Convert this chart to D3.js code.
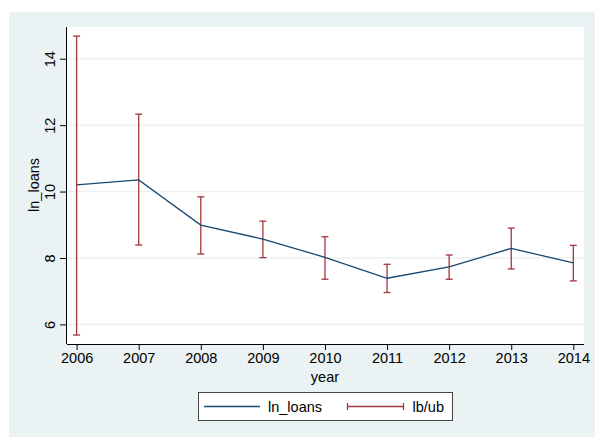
<!DOCTYPE html>
<html>
<head>
<meta charset="utf-8">
<script src="https://cdn.jsdelivr.net/npm/d3@7"></script>
<style>
  html, body { margin: 0; padding: 0; background: #ffffff; }
  svg { display: block; }
  text { font-family: "Liberation Sans", Arial, Helvetica, sans-serif; fill: #000; }
</style>
</head>
<body>
<svg id="chart" width="595" height="437"></svg>
<script>
// Yearly mean of ln_loans with lower / upper bounds
const years = [2006, 2007, 2008, 2009, 2010, 2011, 2012, 2013, 2014];
const lnLoans = [10.20, 10.35, 8.99, 8.57, 8.02, 7.39, 7.73, 8.29, 7.85];
const lower   = [5.68, 8.39, 8.12, 8.01, 7.36, 6.96, 7.36, 7.67, 7.31];
const upper   = [14.68, 12.33, 9.84, 9.11, 8.64, 7.81, 8.09, 8.90, 8.38];
const yTicks = [6, 8, 10, 12, 14];
const legendLabels = ["ln_loans", "lb/ub"];

const svg = d3.select("#chart");
const W = 595, H = 437;
const bgColor = "#eaf2f3";
const lineColor = "#1a476f";
const barColor = "#a3353b";
const fs = 14.5;

// Graph region background
svg.append("rect").attr("x", 9).attr("y", 12).attr("width", W - 9).attr("height", H - 12)
  .attr("fill", bgColor);

const plot = { left: 67, right: 584, top: 27, bottom: 344 };
svg.append("rect").attr("x", plot.left).attr("y", plot.top)
  .attr("width", plot.right - plot.left).attr("height", plot.bottom - plot.top)
  .attr("fill", "#ffffff");

const x = d3.scaleLinear().domain([2005.845, 2014.172]).range([plot.left, plot.right]);
const y = d3.scaleLinear().domain([5.41, 14.955]).range([plot.bottom, plot.top]);

// Horizontal grid lines
svg.append("g").selectAll("line").data(yTicks).join("line")
  .attr("x1", plot.left).attr("x2", plot.right)
  .attr("y1", d => y(d)).attr("y2", d => y(d))
  .attr("stroke", bgColor).attr("stroke-width", 1.5);

// Axes
const xAxis = d3.axisBottom(x).tickValues(years).tickFormat(d3.format("d"))
  .tickSizeInner(6).tickSizeOuter(0).tickPadding(3);
const gx = svg.append("g").attr("transform", `translate(0,${plot.bottom})`).call(xAxis);
gx.select(".domain").attr("stroke", "#000").attr("stroke-width", 1)
  .attr("d", `M${plot.left},0.5H${plot.right}`);
gx.selectAll(".tick line").attr("stroke", "#000");
gx.selectAll(".tick text").attr("font-size", fs).attr("font-family", "Liberation Sans, Arial, sans-serif");

const yAxis = d3.axisLeft(y).tickValues(yTicks).tickFormat(d3.format("d"))
  .tickSizeInner(7).tickSizeOuter(0).tickPadding(5);
const gy = svg.append("g").attr("transform", `translate(${plot.left},0)`).call(yAxis);
gy.select(".domain").attr("stroke", "#000").attr("stroke-width", 1)
  .attr("d", `M-0.5,${plot.top}V${plot.bottom}`);
gy.selectAll(".tick line").attr("stroke", "#000");
gy.selectAll(".tick text")
  .attr("font-size", fs).attr("font-family", "Liberation Sans, Arial, sans-serif")
  .attr("x", null).attr("dy", null)
  .attr("text-anchor", "middle")
  .attr("transform", "translate(-12.5,0) rotate(-90)");

// Axis titles
svg.append("text").attr("x", (x(2010))).attr("y", 381.5)
  .attr("text-anchor", "middle").attr("font-size", fs).text("year");
svg.append("text")
  .attr("transform", `translate(38.5,${y(10.2)}) rotate(-90)`)
  .attr("text-anchor", "middle").attr("font-size", fs).text("ln_loans");

// Error bars (range with caps)
const capHalf = 3.5;
const bars = svg.append("g").attr("stroke", barColor).attr("stroke-width", 1.3).attr("fill", "none");
years.forEach((yr, i) => {
  const cx = x(yr);
  bars.append("line").attr("x1", cx).attr("x2", cx).attr("y1", y(lower[i])).attr("y2", y(upper[i]));
  bars.append("line").attr("x1", cx - capHalf).attr("x2", cx + capHalf).attr("y1", y(lower[i])).attr("y2", y(lower[i]));
  bars.append("line").attr("x1", cx - capHalf).attr("x2", cx + capHalf).attr("y1", y(upper[i])).attr("y2", y(upper[i]));
});

// Mean line
const line = d3.line().x((d, i) => x(years[i])).y(d => y(d));
svg.append("path").datum(lnLoans).attr("d", line)
  .attr("fill", "none").attr("stroke", lineColor).attr("stroke-width", 1.3);

// Legend
const lg = svg.append("g");
lg.append("rect").attr("x", 198.5).attr("y", 392.5).attr("width", 254).attr("height", 28)
  .attr("fill", "#ffffff").attr("stroke", "#444").attr("stroke-width", 1);
lg.append("line").attr("x1", 204).attr("x2", 260).attr("y1", 406.5).attr("y2", 406.5)
  .attr("stroke", lineColor).attr("stroke-width", 1.3);
lg.append("text").attr("x", 268).attr("y", 411.5).attr("font-size", fs).text(legendLabels[0]);
const sx1 = 347.5, sx2 = 403.5, sy = 406.5;
lg.append("line").attr("x1", sx1).attr("x2", sx2).attr("y1", sy).attr("y2", sy)
  .attr("stroke", barColor).attr("stroke-width", 1.3);
[sx1, sx2].forEach(v => lg.append("line").attr("x1", v).attr("x2", v)
  .attr("y1", sy - capHalf).attr("y2", sy + capHalf).attr("stroke", barColor).attr("stroke-width", 1.3));
lg.append("text").attr("x", 412.5).attr("y", 411.5).attr("font-size", fs).text(legendLabels[1]);
</script>
</body>
</html>
